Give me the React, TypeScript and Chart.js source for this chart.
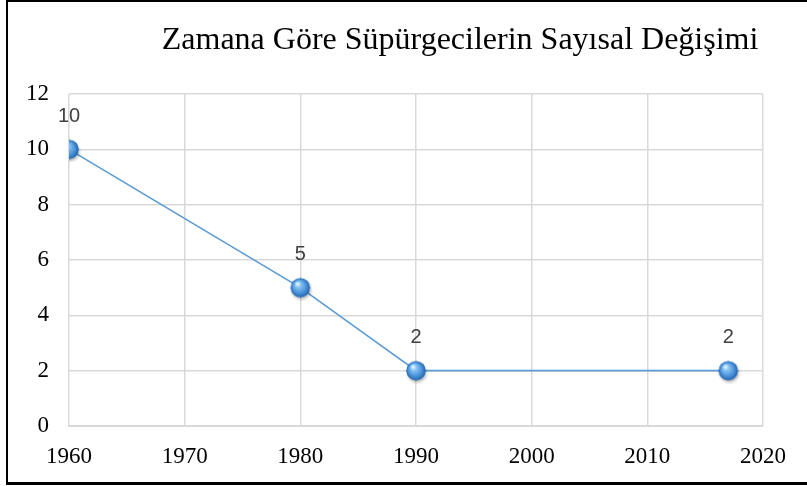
import React, { useEffect, useRef } from "react";
import { Chart, registerables } from "chart.js";

Chart.register(...registerables);

const TITLE = "Zamana Göre Süpürgecilerin Sayısal Değişimi";
const years = [1960, 1980, 1990, 2017];
const counts = [10, 5, 2, 2];
const xTicks = { min: 1960, max: 2020, step: 10 };
const yTicks = { min: 0, max: 12, step: 2 };

function makeSphere(): HTMLCanvasElement {
  const size = 26;
  const c = document.createElement("canvas");
  c.width = size;
  c.height = size;
  const ctx = c.getContext("2d")!;
  const cx = size / 2;
  const cy = size / 2;
  const r = 9.6;
  ctx.save();
  ctx.shadowColor = "rgba(0,0,0,0.3)";
  ctx.shadowBlur = 3;
  ctx.shadowOffsetX = 1;
  ctx.shadowOffsetY = 2;
  ctx.beginPath();
  ctx.arc(cx, cy, r, 0, Math.PI * 2);
  ctx.fillStyle = "#3a7cc4";
  ctx.fill();
  ctx.restore();
  const g = ctx.createRadialGradient(cx - 3, cy - 4, 1, cx, cy, r);
  g.addColorStop(0, "#dcefff");
  g.addColorStop(0.25, "#84c0f2");
  g.addColorStop(0.7, "#4690d8");
  g.addColorStop(1, "#2465ae");
  ctx.beginPath();
  ctx.arc(cx, cy, r, 0, Math.PI * 2);
  ctx.fillStyle = g;
  ctx.fill();
  return c;
}

const titlePlugin = {
  id: "customTitle",
  afterDraw(chart: any) {
    const { ctx, chartArea } = chart;
    ctx.save();
    ctx.font = '32px "Liberation Serif", "Times New Roman", serif';
    ctx.fillStyle = "#000";
    ctx.textAlign = "center";
    ctx.textBaseline = "alphabetic";
    const cx = chartArea.left + (chartArea.right - chartArea.left) * 0.5635;
    ctx.fillText(TITLE, cx, chartArea.top - 45);
    ctx.restore();
  },
};

const labelPlugin = {
  id: "pointLabels",
  afterDatasetsDraw(chart: any) {
    const { ctx } = chart;
    const meta = chart.getDatasetMeta(0);
    ctx.save();
    ctx.font = '20px "Liberation Sans", Arial, sans-serif';
    ctx.fillStyle = "#404040";
    ctx.textAlign = "center";
    ctx.textBaseline = "middle";
    meta.data.forEach((pt: any, i: number) => {
      ctx.fillText(String(counts[i]), pt.x, pt.y - 33);
    });
    ctx.restore();
  },
};

export default function App() {
  const ref = useRef<HTMLCanvasElement>(null);
  useEffect(() => {
    if (!ref.current) return;
    const sphere = makeSphere();
    const chart = new Chart(ref.current, {
      type: "line",
      data: {
        datasets: [
          {
            data: years.map((y, i) => ({ x: y, y: counts[i] })),
            borderColor: "#5b9bd5",
            borderWidth: 1.6,
            pointStyle: sphere as any,
            pointRadius: 10,
            tension: 0,
          },
        ],
      },
      options: {
        animation: false,
        responsive: false,
        devicePixelRatio: 1,
        layout: { padding: { top: 94, right: 44, left: 0, bottom: 0 } },
        plugins: {
          legend: { display: false },
          title: { display: false },
          tooltip: { enabled: false },
        },
        scales: {
          x: {
            type: "linear",
            min: xTicks.min,
            max: xTicks.max,
            afterFit(scale: any) {
              scale.height = 60;
            },
            grid: { color: "#d9d9d9", lineWidth: 1.5, drawTicks: false },
            border: { color: "#d9d9d9", width: 2 },
            ticks: {
              stepSize: xTicks.step,
              padding: 17,
              color: "#000",
              font: { family: '"Liberation Serif", "Times New Roman", serif', size: 23 },
              callback: (v: any) => String(v),
            },
          },
          y: {
            min: yTicks.min,
            max: yTicks.max,
            afterFit(scale: any) {
              scale.width = 69;
            },
            grid: { color: "#d9d9d9", lineWidth: 1.5, drawTicks: false },
            border: { display: false },
            ticks: {
              stepSize: yTicks.step,
              padding: 20,
              color: "#000",
              font: { family: '"Liberation Serif", "Times New Roman", serif', size: 23 },
              callback: (v: any) => String(v),
            },
          },
        },
      },
      plugins: [titlePlugin, labelPlugin],
    });
    return () => chart.destroy();
  }, []);

  return (
    <div
      style={{
        position: "fixed",
        left: 0,
        top: 0,
        width: 807,
        height: 486,
        background: "#fff",
        overflow: "hidden",
      }}
    >
      <canvas
        ref={ref}
        width={807}
        height={486}
        style={{ position: "absolute", left: 0, top: 0, width: 807, height: 486 }}
      />
      <div
        style={{
          position: "absolute",
          left: 6,
          top: 0,
          width: 830,
          height: 485,
          boxSizing: "border-box",
          borderLeft: "2px solid #000",
          borderTop: "2px solid #000",
          borderBottom: "3px solid #000",
          pointerEvents: "none",
        }}
      />
    </div>
  );
}
